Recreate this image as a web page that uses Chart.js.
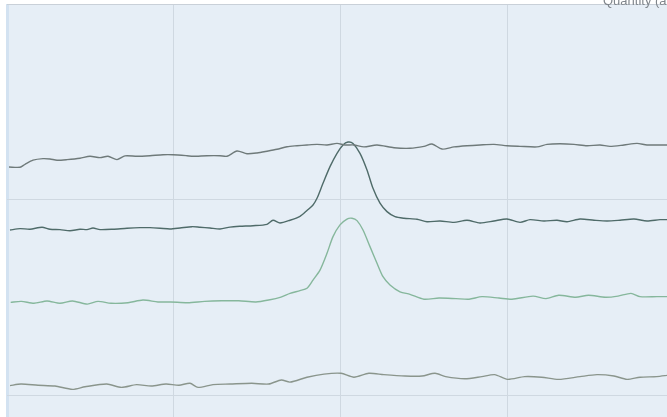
<!DOCTYPE html>
<html>
<head>
<meta charset="utf-8">
<script src="https://cdn.jsdelivr.net/npm/chart.js@4/dist/chart.umd.min.js"></script>
<style>
  html, body { margin: 0; padding: 0; background: #ffffff; }
  #wrap { width: 667px; height: 417px; position: relative; }
</style>
</head>
<body>
<div id="wrap"><canvas id="trace-chart"></canvas></div>
<script>
// Trazas (x = tiempo, y = cantidad)
const traceA_x = [0.012,0.078,0.108,0.156,0.216,0.258,0.300,0.360,0.438,0.498,0.558,0.606,0.660,0.708,0.780,0.858,0.936,0.996,1.080,1.116,1.200,1.278,1.320,1.380,1.440,1.500,1.560,1.620,1.680,1.740,1.800,1.860,1.920,1.980,2.028,2.082,2.142,2.220,2.322,2.418,2.502,2.550,2.610,2.682,2.760,2.838,2.922,3.000,3.078,3.180,3.240,3.318,3.402,3.480,3.558,3.618,3.702,3.780,3.840,3.918,3.966];
const traceA_y = [1.166,1.165,1.180,1.201,1.209,1.207,1.201,1.204,1.211,1.221,1.214,1.221,1.204,1.223,1.221,1.224,1.229,1.229,1.224,1.221,1.224,1.224,1.221,1.248,1.234,1.238,1.247,1.257,1.270,1.275,1.279,1.282,1.279,1.287,1.279,1.279,1.269,1.279,1.265,1.262,1.272,1.284,1.258,1.269,1.275,1.279,1.282,1.275,1.272,1.269,1.282,1.285,1.282,1.275,1.279,1.272,1.279,1.287,1.279,1.279,1.279];

const traceB_x = [0.018,0.078,0.138,0.210,0.258,0.318,0.378,0.438,0.480,0.516,0.558,0.636,0.720,0.798,0.858,0.918,0.978,1.038,1.110,1.158,1.218,1.278,1.338,1.398,1.476,1.560,1.596,1.638,1.698,1.758,1.800,1.836,1.860,1.896,1.938,1.980,2.016,2.046,2.076,2.118,2.160,2.196,2.238,2.280,2.328,2.382,2.460,2.520,2.598,2.682,2.760,2.838,2.922,3.000,3.078,3.138,3.222,3.300,3.360,3.438,3.522,3.600,3.678,3.762,3.840,3.918,3.966];
const traceB_y = [0.844,0.851,0.848,0.858,0.848,0.846,0.840,0.848,0.846,0.854,0.846,0.848,0.853,0.856,0.856,0.853,0.849,0.854,0.861,0.858,0.854,0.849,0.859,0.863,0.866,0.873,0.894,0.880,0.894,0.914,0.944,0.972,1.006,1.083,1.168,1.236,1.279,1.294,1.287,1.236,1.151,1.057,0.981,0.938,0.912,0.904,0.899,0.886,0.890,0.883,0.894,0.880,0.890,0.900,0.883,0.897,0.890,0.894,0.886,0.900,0.894,0.890,0.894,0.900,0.890,0.897,0.897];

const traceC_x = [0.022,0.086,0.162,0.240,0.318,0.393,0.482,0.546,0.624,0.726,0.816,0.906,0.982,1.084,1.186,1.288,1.391,1.493,1.570,1.644,1.698,1.758,1.800,1.836,1.878,1.920,1.956,1.998,2.040,2.070,2.100,2.136,2.178,2.220,2.256,2.298,2.358,2.418,2.502,2.592,2.694,2.772,2.850,2.952,3.030,3.156,3.234,3.310,3.412,3.489,3.591,3.666,3.744,3.798,3.900,3.966];
const traceC_y = [0.474,0.479,0.469,0.481,0.469,0.481,0.465,0.479,0.469,0.472,0.486,0.476,0.476,0.472,0.479,0.482,0.482,0.476,0.486,0.501,0.520,0.534,0.546,0.588,0.639,0.725,0.810,0.870,0.900,0.904,0.892,0.844,0.759,0.674,0.605,0.563,0.528,0.515,0.490,0.496,0.493,0.490,0.503,0.496,0.490,0.506,0.493,0.510,0.500,0.510,0.500,0.506,0.520,0.503,0.503,0.503];

const traceD_x = [0.018,0.084,0.186,0.288,0.393,0.468,0.598,0.687,0.777,0.866,0.954,1.032,1.098,1.146,1.236,1.338,1.468,1.570,1.646,1.698,1.800,1.902,2.004,2.082,2.171,2.261,2.388,2.490,2.568,2.632,2.747,2.849,2.926,3.003,3.105,3.208,3.310,3.438,3.540,3.642,3.720,3.798,3.898,3.966];
const traceD_y = [0.048,0.056,0.050,0.046,0.029,0.042,0.056,0.039,0.053,0.046,0.056,0.050,0.060,0.039,0.053,0.056,0.060,0.056,0.077,0.066,0.091,0.107,0.111,0.091,0.111,0.104,0.097,0.097,0.111,0.094,0.083,0.094,0.104,0.080,0.094,0.091,0.080,0.094,0.104,0.097,0.080,0.091,0.094,0.101];

const xTicks = [0, 1, 2, 3];
const yTicks = [0, 1, 2];
const axisTitle = 'Quantity (a.u.)';

function toPoints(xs, ys) {
    return xs.map((x, i) => ({ x: x, y: ys[i] }));
}

// Fondo del área de trazado y título recortado
const plotBackground = {
    id: 'plotBackground',
    beforeDraw(chart) {
        const { ctx, chartArea } = chart;
        ctx.save();
        ctx.fillStyle = '#e6eef6';
        ctx.fillRect(chartArea.left, chartArea.top, chartArea.right - chartArea.left, chartArea.bottom - chartArea.top);
        ctx.restore();
    },
    afterDraw(chart) {
        const ctx = chart.ctx;
        ctx.save();
        ctx.font = '13px "Liberation Sans", Arial, sans-serif';
        ctx.fillStyle = '#80868c';
        ctx.textBaseline = 'alphabetic';
        ctx.fillText(axisTitle, 603, 5);
        ctx.restore();
    }
};

const lineStyle = { borderWidth: 1.4, pointRadius: 0, tension: 0.25, fill: false };

new Chart(document.getElementById('trace-chart'), {
    type: 'line',
    data: {
        datasets: [
            Object.assign({ label: 'A', data: toPoints(traceA_x, traceA_y), borderColor: '#6f7a7a' }, lineStyle),
            Object.assign({ label: 'B', data: toPoints(traceB_x, traceB_y), borderColor: '#4f6b69' }, lineStyle),
            Object.assign({ label: 'C', data: toPoints(traceC_x, traceC_y), borderColor: '#86b79c' }, lineStyle),
            Object.assign({ label: 'D', data: toPoints(traceD_x, traceD_y), borderColor: '#8a958c' }, lineStyle)
        ]
    },
    options: {
        responsive: true,
        maintainAspectRatio: false,
        animation: false,
        layout: { padding: { left: 7, top: 4, right: 0, bottom: 0 } },
        plugins: { legend: { display: false }, tooltip: { enabled: false } },
        scales: {
            x: {
                type: 'linear',
                min: 0,
                max: 3.96,
                afterBuildTicks: (scale) => { scale.ticks = xTicks.map(v => ({ value: v })); },
                ticks: { display: false },
                border: { display: false },
                grid: {
                    drawTicks: false,
                    color: (c) => c.tick && c.tick.value === 0 ? '#d3e2f1' : '#cfd8e1',
                    lineWidth: (c) => c.tick && c.tick.value === 0 ? 3 : 1
                }
            },
            y: {
                type: 'linear',
                min: -0.1125,
                max: 2,
                afterBuildTicks: (scale) => { scale.ticks = yTicks.map(v => ({ value: v })); },
                ticks: { display: false },
                border: { display: false },
                grid: {
                    drawTicks: false,
                    color: (c) => c.tick && c.tick.value === 2 ? '#c9d0d8' : '#cfd8e1',
                    lineWidth: 1
                }
            }
        }
    },
    plugins: [plotBackground]
});
</script>
</body>
</html>
